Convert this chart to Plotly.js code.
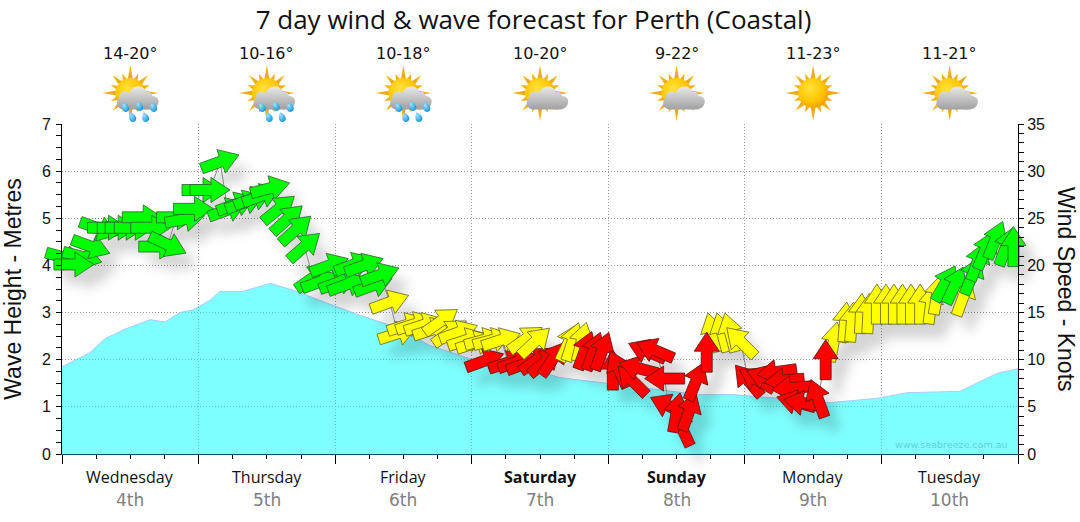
<!DOCTYPE html>
<html><head><meta charset="utf-8">
<script src="https://cdn.plot.ly/plotly-3.0.1.min.js"></script>
<style>html,body{margin:0;padding:0;background:#fff}#c{width:1080px;height:522px}</style>
</head><body><div id="c"></div>
<script>
const chartTitle = '7 day wind & wave forecast for Perth (Coastal)';
const dayNames = ['Wednesday','Thursday','Friday','Saturday','Sunday','Monday','Tuesday'];
const dayDates = ['4th','5th','6th','7th','8th','9th','10th'];
const boldDays = ['Saturday','Sunday'];
const tempRanges = ['14-20°','10-16°','10-18°','10-20°','9-22°','11-23°','11-21°'];
const dayIcons = ['rain','rain','rain','cloud','cloud','sun','cloud'];

const waveHours = [0,4.9,7.6,11.1,15.5,18.1,20.7,23,26,27.8,31.8,36.6,41.3,44.8,52.4,58.2,64.7,72.2,84.5,87.5,95.8,109.3,111.8,117.9,126.2,135,143.2,148.5,157.8,161.3,164.3,168];
const waveMetres = [1.85,2.15,2.45,2.65,2.85,2.8,3.0,3.06,3.26,3.45,3.45,3.62,3.45,3.28,2.94,2.71,2.3,2.0,1.73,1.62,1.5,1.3,1.26,1.26,1.18,1.09,1.18,1.3,1.33,1.54,1.71,1.81];

const windHours = [0.6,3.6,2.1,5.1,6.5,8.0,9.7,11.1,12.7,14.1,15.6,17.0,18.6,20.1,21.6,23.1,24.6,26.0,27.8,29.1,30.6,32.1,33.6,35.1,36.6,38.1,39.6,41.1,42.6,44.1,45.5,47.0,48.6,50.1,51.3,53.1,54.7,55.9,
 57.6,59.0,60.6,62.1,63.6,65.1,66.6,68.2,69.7,71.2,72.7,
 74.3,78.4,80.0,81.5,83.5,84.9,86.3,
 74.2,75.7,77.2,81.5,83.1,89.0,89.7,91.3,
 91.9,93.4,94.9,96.8,97.8,100.2,101.3,102.8,104.2,105.9,106.6,108.9,108.0,110.2,111.4,
 114.4,116.0,117.4,119.3,113.3,
 120.6,122.1,123.6,125.6,126.9,128.2,129.0,130.3,132.8,
 135.6,134.2,137.6,138.8,140.4,141.7,143.2,144.8,146.2,147.7,149.2,150.8,152.7,153.8,158.4,
 155.2,156.9,159.9,160.9,162.2,164.0,165.9,167.2];
const windKnots = [20.8,20.9,20.1,22.0,23.9,24,24,24,24,25.1,24,22.0,22.2,25.1,24.9,26.0,28.0,28.0,31.0,25.9,26.5,26.7,27.1,27.4,28.2,26.0,24.9,23.8,22.0,18.7,18.3,20.0,18.2,18.0,20.1,20.0,17.9,19.0,
 16.1,12.8,13.7,13.8,13.7,13.2,14.1,12.9,12.9,12.1,11.8,
 9.9,9.7,9.8,9.6,10.0,9.8,10.1,
 12.1,12.1,12.1,12.2,11.9,11.8,11.9,11.9,
 11.0,10.9,10.9,8.9,9.0,7.8,9.1,10.9,11.0,8.0,5.1,2.8,4.4,4.5,7.7,
 12.9,12.9,12.9,11.9,10.8,
 7.8,7.9,8.1,8.7,7.8,7.0,5.5,5.4,5.9,
 11.9,10.0,14.0,14.0,14.9,14.9,15.9,15.9,15.9,15.9,15.9,15.9,15.9,16.9,16.7,
 18.1,17.9,18.9,20.4,21.6,22.7,22.0,22.0];
const windDirs = [105,105,90,110,110,90,90,90,90,90,90,90,115,90,80,90,90,90,70,70,70,70,70,70,75,51,48,48,49,55,70,70,70,70,70,70,70,70,
 70,72,72,72,72,72,55,55,70,72,72,
 70,72,70,70,55,50,35,
 75,75,72,55,47,25,18,14,
 20,20,20,0,335,315,285,293,293,270,295,335,10,20,22,
 345,345,345,315,0,
 320,300,290,262,265,265,285,280,340,
 10,0,5,5,3,3,0,0,0,0,0,0,7,10,20,
 30,25,22,20,22,22,20,0];
const windBands = ['g','g','g','g','g','g','g','g','g','g','g','g','g','g','g','g','g','g','g','g','g','g','g','g','g','g','g','g','g','g','g','g','g','g','g','g','g','g',
 'y','y','y','y','y','y','y','y','y','y','y',
 'r','r','r','r','r','r','r',
 'y','y','y','y','y','y','y','y',
 'r','r','r','r','r','r','r','r','r','r','r','r','r','r','r',
 'y','y','y','y','r',
 'r','r','r','r','r','r','r','r','r',
 'y','r','y','y','y','y','y','y','y','y','y','y','y','y','y',
 'g','g','g','g','g','g','g','g'];

const bandFill = {g:'#00ff00', y:'#ffff00', r:'#ff0000'};
const bandLine = {g:'#2f5f2f', y:'#5f5f20', r:'#5f0f0f'};

const W=1080,H=522,mL=62,mR=62,mT=124,mB=68;
const pxPerHour=(W-mL-mR)/168, pxPerKnot=(H-mT-mB)/35;
const AL=40,SW=5.5,HL=19,HW=12.5;

function arrow(h,k,d,ox,oy){
  const a=d*Math.PI/180, fx=Math.sin(a), fy=-Math.cos(a), rx=-fy, ry=fx;
  const pts=[[-AL/2,-SW],[AL/2-HL,-SW],[AL/2-HL,-HW],[AL/2,0],[AL/2-HL,HW],[AL/2-HL,SW],[-AL/2,SW],[-AL/2,-SW]];
  return {
    x:pts.map(p=>h+(p[0]*fx+p[1]*rx+ox)/pxPerHour),
    y:pts.map(p=>k-(p[0]*fy+p[1]*ry+oy)/pxPerKnot)
  };
}

const traces=[];
traces.push({x:waveHours,y:waveMetres,type:'scatter',mode:'lines',fill:'tozeroy',fillcolor:'rgba(0,255,255,0.5)',line:{color:'#a8ccff',width:1},hoverinfo:'skip',showlegend:false,name:'Wave'});

// shadow
const sx=[],sy=[];
windHours.forEach((h,i)=>{const p=arrow(h,windKnots[i],windDirs[i],11,14);sx.push(...p.x,null);sy.push(...p.y,null);});
traces.push({x:sx,y:sy,yaxis:'y2',type:'scatter',mode:'lines',fill:'toself',fillcolor:'rgba(0,0,0,0.17)',line:{width:0},hoverinfo:'skip',showlegend:false,cliponaxis:false,name:'shadow'});

// thin joining line
const order=windHours.map((h,i)=>i).sort((a,b)=>windHours[a]-windHours[b]);
traces.push({x:order.map(i=>windHours[i]),y:order.map(i=>windKnots[i]),yaxis:'y2',type:'scatter',mode:'lines',line:{color:'#8a8a8a',width:1},hoverinfo:'skip',showlegend:false,cliponaxis:false,name:'Wind'});

windHours.forEach((h,i)=>{
  const p=arrow(h,windKnots[i],windDirs[i],0,0);
  traces.push({x:p.x,y:p.y,yaxis:'y2',type:'scatter',mode:'lines',fill:'toself',fillcolor:bandFill[windBands[i]],line:{color:bandLine[windBands[i]],width:0.8},hoverinfo:'skip',showlegend:false,cliponaxis:false});
});

function icon(kind){
  let s='<svg xmlns="http://www.w3.org/2000/svg" width="64" height="64" viewBox="-32 -32 64 64"><defs>'+
  '<radialGradient id="s" cx="0.4" cy="0.35" r="0.75"><stop offset="0" stop-color="#ffe23a"/><stop offset="0.6" stop-color="#ffc400"/><stop offset="1" stop-color="#f59000"/></radialGradient>'+
  '<linearGradient id="r" x1="0" y1="0" x2="0" y2="1"><stop offset="0" stop-color="#f7b500"/><stop offset="1" stop-color="#e9a23a"/></linearGradient>'+
  '<linearGradient id="c" x1="0" y1="0" x2="0" y2="1"><stop offset="0" stop-color="#e8e8e8"/><stop offset="1" stop-color="#a0a0a0"/></linearGradient>'+
  '<radialGradient id="d" cx="0.4" cy="0.3" r="0.8"><stop offset="0" stop-color="#9fe4ff"/><stop offset="1" stop-color="#0a8fd6"/></radialGradient></defs>';
  for(let i=0;i<16;i++){
    const len=i%4===0?28:(i%2===0?25:21);
    s+='<polygon points="-3,-11 3,-11 0,-'+len+'" fill="url(#r)" transform="rotate('+(i*22.5)+')"/>';
  }
  s+='<circle r="15" fill="url(#s)"/>';
  if(kind!=='sun'){
    s+='<path d="M-6,16.5 C-14,16.5 -15,8 -11,5 C-12,-2 -3,-3 -1,0 C2,-9 14,-8 16,-1 C19,-2 22,0 22,3 C27,3 29,7 28,10 C27,15 22,16.5 19,16.5 Z" fill="url(#c)"/>';
  }
  if(kind==='rain'){
    [[-5,14],[9,13],[23,14],[2,24],[15,24]].forEach(p=>{
      s+='<path d="M'+p[0]+','+(p[1]-5)+' C'+(p[0]+5)+','+(p[1])+' '+(p[0]+4)+','+(p[1]+5)+' '+p[0]+','+(p[1]+5)+' C'+(p[0]-4)+','+(p[1]+5)+' '+(p[0]-5)+','+p[1]+' '+p[0]+','+(p[1]-5)+' Z" fill="url(#d)" transform="rotate(-20 '+p[0]+' '+p[1]+')"/>';
    });
  }
  return 'data:image/svg+xml;charset=utf-8,'+encodeURIComponent(s+'</svg>');
}

const plotH=H-mT-mB, plotW=W-mL-mR;
const images=dayIcons.map((k,i)=>({source:icon(k),xref:'paper',yref:'paper',x:(12+24*i)/168,y:(H-mB-93)/plotH,sizex:64/plotW,sizey:64/plotH,xanchor:'center',yanchor:'middle',sizing:'stretch',layer:'above'}));

const ann=[];
dayNames.forEach((d,i)=>{
  const cx=(12+24*i)/168;
  ann.push({xref:'paper',yref:'paper',x:cx,y:(H-mB-476.5)/plotH,text:boldDays.includes(d)?'<b>'+d+'</b>':d,showarrow:false,font:{family:'"Open Sans","Noto Sans",sans-serif',size:16,color:'#111'},xanchor:'center',yanchor:'middle'});
  ann.push({xref:'paper',yref:'paper',x:cx,y:(H-mB-499.5)/plotH,text:dayDates[i],showarrow:false,font:{family:'"DejaVu Sans",sans-serif',size:17,color:'#808080'},xanchor:'center',yanchor:'middle'});
  ann.push({xref:'paper',yref:'paper',x:cx,y:(H-mB-54)/plotH,text:tempRanges[i],showarrow:false,font:{family:'"DejaVu Sans",sans-serif',size:16,color:'#111'},xanchor:'center',yanchor:'middle'});
});
ann.push({xref:'paper',yref:'paper',x:(1010-mL)/plotW,y:(H-mB-444)/plotH,text:'www.seabreeze.com.au',showarrow:false,font:{family:'"DejaVu Sans",sans-serif',size:9.5,color:'#5fd2de'},xanchor:'right',yanchor:'middle'});

const numFont={family:'"Liberation Sans",Arial,sans-serif',size:16,color:'#111'};
const titleFont={family:'"Liberation Sans",Arial,sans-serif',size:23,color:'#111'};
ann.push({xref:'paper',yref:'paper',x:(1066-mL)/plotW,y:(H-mB-289)/plotH,text:'Wind Speed - Knots',textangle:90,showarrow:false,font:titleFont,xanchor:'center',yanchor:'middle'});
const layout={
  width:W,height:H,margin:{l:mL,r:mR,t:mT,b:mB,pad:0},paper_bgcolor:'#fff',plot_bgcolor:'#fff',showlegend:false,
  title:{text:chartTitle,x:533.5/W,xanchor:'center',y:1-20/H,yanchor:'middle',font:{family:'"Open Sans",sans-serif',size:26,color:'#111'}},
  xaxis:{range:[0,168],dtick:24,tick0:0,tickmode:'linear',ticks:'outside',ticklen:9,tickcolor:'#000',tickwidth:1,showticklabels:false,
    showgrid:true,gridcolor:'#999',griddash:'1px,2px',gridwidth:1,showline:true,linecolor:'#00506e',linewidth:1,zeroline:false,fixedrange:true,
    minor:{dtick:6,tick0:0,ticks:'outside',ticklen:4,tickcolor:'#000',tickwidth:1,showgrid:false}},
  yaxis:{range:[0,7],dtick:1,tick0:0,tickmode:'linear',ticks:'outside',ticklen:5,tickcolor:'#000',tickfont:numFont,ticklabelstandoff:2,
    showgrid:true,gridcolor:'#999',griddash:'1px,2px',gridwidth:1,showline:true,linecolor:'#000',zeroline:false,fixedrange:true,
    title:{text:'Wave Height - Metres',font:titleFont,standoff:18},
    minor:{dtick:0.25,tick0:0,ticks:'outside',ticklen:5,tickcolor:'#000',showgrid:false}},
  yaxis2:{range:[0,35],overlaying:'y',side:'right',dtick:5,tick0:0,tickmode:'linear',ticks:'outside',ticklen:5,tickcolor:'#000',tickfont:numFont,
    showgrid:false,showline:true,linecolor:'#000',zeroline:false,fixedrange:true,
    minor:{dtick:1,tick0:0,ticks:'outside',ticklen:5,tickcolor:'#000',showgrid:false}},
  images:images,annotations:ann
};
Plotly.newPlot('c',traces,layout,{displayModeBar:false,staticPlot:true}).then(gd=>{
  gd.querySelectorAll('.cartesianlayer [clip-path]').forEach(n=>n.removeAttribute('clip-path'));
  const t=gd.querySelectorAll('.scatterlayer .trace')[1];
  if(t) t.style.filter='blur(6px)';
});
</script></body></html>
